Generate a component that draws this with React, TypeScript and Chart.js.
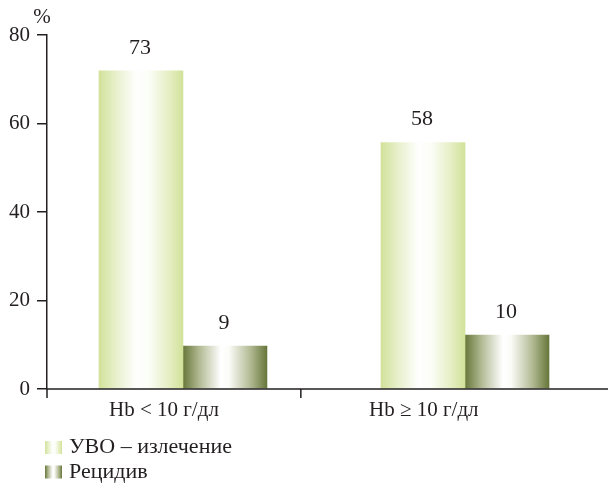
import React, { useEffect, useRef } from "react";
import { Chart, registerables } from "chart.js";

Chart.register(...registerables);

// ---- data ----
const categories = ["Hb < 10 г/дл", "Hb ≥ 10 г/дл"];
const seriesNames = ["УВО – излечение", "Рецидив"];
// bar heights as drawn in the picture (%)
const svrValues = [71.9, 55.7];
const relapseValues = [9.7, 12.2];
// printed value labels
const svrLabels = ["73", "58"];
const relapseLabels = ["9", "10"];
const yTickValues = [0, 20, 40, 60, 80];
const yUnit = "%";

// ---- styles ----
const FONT = "'Liberation Serif', 'DejaVu Serif', serif";
const INK = "#231f20";
const BAR = 84;
const GREEN_EDGE = "#d2e29a";
const DARK_EDGE = "#67773a";
const LABEL_SHIFT = [-10, -4];

function greenStops(g: CanvasGradient) {
  g.addColorStop(0, GREEN_EDGE);
  g.addColorStop(0.22, "#e9f1cf");
  g.addColorStop(0.45, "#ffffff");
  g.addColorStop(0.6, "#fbfdf6");
  g.addColorStop(0.82, "#e6efc6");
  g.addColorStop(1, GREEN_EDGE);
}
function darkStops(g: CanvasGradient) {
  g.addColorStop(0, DARK_EDGE);
  g.addColorStop(0.2, "#b3bb95");
  g.addColorStop(0.45, "#ffffff");
  g.addColorStop(0.55, "#fbfbf7");
  g.addColorStop(0.8, "#b3bb95");
  g.addColorStop(1, DARK_EDGE);
}

const stopFns = [greenStops, darkStops];
const edges = [GREEN_EDGE, DARK_EDGE];

function barFill(dsIndex: number) {
  return (ctx: any) => {
    const chart = ctx.chart;
    const xs = chart.scales && chart.scales.x;
    if (!xs || ctx.type !== "data") return edges[dsIndex];
    const c = xs.getPixelForValue(ctx.dataIndex) + (dsIndex === 0 ? -BAR / 2 : BAR / 2);
    if (!Number.isFinite(c)) return edges[dsIndex];
    const g = chart.ctx.createLinearGradient(c - BAR / 2, 0, c + BAR / 2, 0);
    stopFns[dsIndex](g);
    return g;
  };
}

const decorPlugin = {
  id: "decor",
  afterDraw(chart: any) {
    const ctx = chart.ctx as CanvasRenderingContext2D;
    const area = chart.chartArea;
    const xs = chart.scales.x;
    ctx.save();
    ctx.strokeStyle = INK;
    ctx.lineWidth = 1.5;
    // x axis line
    ctx.beginPath();
    ctx.moveTo(area.left, area.bottom);
    ctx.lineTo(chart.width, area.bottom);
    // ticks below axis
    ctx.moveTo(area.left, area.bottom);
    ctx.lineTo(area.left, area.bottom + 9);
    const divider = xs.getPixelForValue(0.418);
    ctx.moveTo(divider, area.bottom);
    ctx.lineTo(divider, area.bottom + 9);
    ctx.stroke();

    ctx.fillStyle = INK;
    ctx.textBaseline = "middle";
    ctx.textAlign = "center";
    ctx.font = `21px ${FONT}`;
    // category labels
    const segs = [area.left, divider, divider + (divider - area.left)];
    categories.forEach((c, i) => {
      ctx.fillText(c, (segs[i] + segs[i + 1]) / 2 + LABEL_SHIFT[i], area.bottom + 21);
    });
    // value labels
    ctx.font = `22px ${FONT}`;
    const labelSets = [svrLabels, relapseLabels];
    chart.data.datasets.forEach((_: any, di: number) => {
      const meta = chart.getDatasetMeta(di);
      meta.data.forEach((el: any, i: number) => {
        ctx.fillText(labelSets[di][i], el.x - 1, el.y - 23);
      });
    });
    // unit
    ctx.font = `21px ${FONT}`;
    ctx.fillText(yUnit, area.left - 5, 17);
    // legend
    ctx.font = `22px ${FONT}`;
    ctx.textAlign = "left";
    seriesNames.forEach((name, i) => {
      const by = 441 + i * 24.5;
      const g = ctx.createLinearGradient(45, 0, 62, 0);
      stopFns[i](g);
      ctx.fillStyle = g;
      ctx.fillRect(45, by, 17, 13);
      ctx.fillStyle = INK;
      ctx.fillText(name, 69, by + 6.5);
    });
    ctx.restore();
  },
};

export default function App() {
  const ref = useRef<HTMLCanvasElement | null>(null);
  useEffect(() => {
    if (!ref.current) return;
    const chart = new Chart(ref.current, {
      type: "bar",
      data: {
        datasets: [
          {
            label: seriesNames[0],
            data: svrValues.map((v, i) => ({ x: i, y: v })),
            backgroundColor: barFill(0),
            borderWidth: 0,
            barThickness: BAR,
          },
          {
            label: seriesNames[1],
            data: relapseValues.map((v, i) => ({ x: i, y: v })),
            backgroundColor: barFill(1),
            borderWidth: 0,
            barThickness: BAR,
          },
        ],
      },
      options: {
        animation: false,
        responsive: true,
        maintainAspectRatio: false,
        layout: { padding: { top: 35, bottom: 94, left: 0, right: 0 } },
        plugins: { legend: { display: false }, tooltip: { enabled: false } },
        scales: {
          x: {
            type: "linear",
            display: false,
            offset: false,
            grid: { offset: false },
            min: -0.482,
            max: 1.507,
          },
          y: {
            min: 0,
            max: 80,
            afterBuildTicks: (s: any) => {
              s.ticks = yTickValues.map((v) => ({ value: v }));
            },
            afterFit: (s: any) => {
              s.width = 47;
            },
            ticks: {
              color: INK,
              padding: 7,
              font: { family: FONT, size: 21 },
            },
            grid: {
              display: true,
              drawOnChartArea: false,
              drawTicks: true,
              tickLength: 10,
              color: INK,
              lineWidth: 1.5,
            },
            border: { display: true, color: INK, width: 1.5 },
          },
        },
      },
      plugins: [decorPlugin],
    } as any);
    return () => chart.destroy();
  }, []);
  return (
    <div style={{ position: "absolute", left: 0, top: 0, width: 608, height: 483, background: "#fff" }}>
      <canvas ref={ref} />
    </div>
  );
}
